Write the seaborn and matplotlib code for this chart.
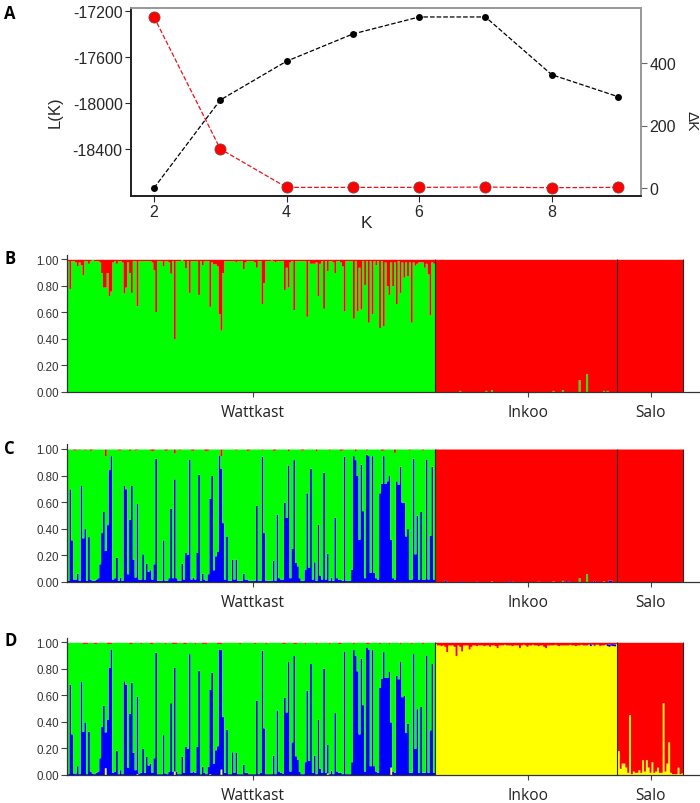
import matplotlib
matplotlib.use("Agg")
import matplotlib.pyplot as plt
import numpy as np
import pandas as pd
import seaborn as sns

# panel A
K_VALUES = [2, 3, 4, 5, 6, 7, 8, 9]
L_K = [-18739, -17974, -17637, -17400, -17252, -17252, -17754, -17945]
DELTA_K = [547, 125, 2, 2, 2, 3, 1, 2]
L_TICKS = [-17200, -17600, -18000, -18400]
DELTA_TICKS = [0, 200, 400]
K_TICKS = [2, 4, 6, 8]

# structure panels, populations in plot order
POPULATIONS = ["Wattkast", "Inkoo", "Salo"]
POP_SIZES = [197, 98, 35]
POP_TICKS = [99.2, 246.4, 312.5]
Q_TICKS = [0.0, 0.2, 0.4, 0.6, 0.8, 1.0]

B_WATT_RED = [
    .01, .22, .01, .01, .02, .05, .02, .04, .115, .01,
    .01, .03, .01, 0, .01, .01, .01, .02, .10, .21,
    .21, .10, .275, .24, .02, .01, .03, .01, .01, .02,
    .255, .21, .02, .10, .25, .01, .01, .35, .01, .01,
    .01, .01, .01, .01, .01, .02, .08, .395, .01, .01,
    .01, .05, .01, .01, .02, .105, .01, .60, .01, .01,
    .01, 0, .01, .065, .01, .25, .01, .01, .01, .01,
    .265, .01, .04, .01, .01, .01, .355, .02, .035, .035,
    .05, .41, .535, .10, .01, .01, .01, .01, .01, .01,
    .02, .01, .01, .01, .07, .02, .01, .01, .01, .01,
    .02, .06, .01, .01, .335, .175, .01, .01, .01, .005,
    .01, .02, .01, .01, .01, .01, .23, .06, .21, .02,
    .01, .38, .01, .01, .01, .01, .01, .01, .43, .01,
    .03, .03, .03, .02, .275, .03, .01, .37, .01, .085,
    .01, .01, .02, .10, .01, .01, .02, .05, .39, .01,
    .01, .01, .01, .445, .01, .39, .06, .375, .01, .19,
    .01, .475, .01, .41, .01, .04, .01, .515, .01, .50,
    .02, .20, .265, .02, .20, .02, .335, .01, .25, .02,
    .135, .02, .125, .02, .475, .02, .045, .03, .02, .02,
    .02, .06, .03, .11, .42, .02, .03,
]
B_INK_GREEN_IDX = [13, 27, 30, 63, 68, 77, 81, 90, 92]
B_INK_GREEN = [.01, .01, .015, .01, .015, .09, .135, .01, .01]

C_WATT_BLUE = [
    .01, .70, .315, .02, .02, .065, .01, .725, .33, .40,
    .01, .34, .02, .01, .01, .02, .03, .135, .37, .53,
    .235, .43, .845, .95, .02, .03, .185, .01, .035, .01,
    .725, .70, .06, .47, .725, .17, .035, .59, .02, .02,
    .21, .02, .14, .08, .09, .02, .135, .93, .01, .01,
    .01, .315, .01, .01, .03, .555, .03, .775, .03, .01,
    .01, .14, .02, .22, .205, .925, .02, .035, .02, .22,
    .81, .01, .065, .02, .01, .06, .63, .80, .09, .195,
    .23, .955, .855, .445, .02, .345, .01, .01, .17, .02,
    .17, .01, .01, .01, .065, .02, .02, .01, .01, .01,
    .01, .575, .01, .01, .945, .37, .01, .01, .01, .01,
    .16, .01, .51, .03, .02, .02, .60, .485, .88, .03,
    .25, .92, .145, .12, .03, .01, .01, .095, .67, .11,
    .855, .02, .15, .01, .435, .05, .02, .825, .02, .215,
    .01, .035, .01, .485, .03, .02, .02, .01, .945, .01,
    .01, .01, .095, .95, .92, .80, .32, .885, .535, .03,
    .96, .95, .07, .95, .07, .03, .02, .67, .74, .95,
    .74, .76, .80, .32, .03, .02, .76, .735, .87, .60,
    .60, .345, .40, .02, .02, .93, .21, .50, .02, .53,
    .02, .02, .925, .02, .35, .87, .02,
]
C_WATT_RED_IDX = [3, 4, 6, 9, 12, 13, 20, 27, 28, 33, 36, 37, 44, 45, 46, 52, 53,
                  57, 60, 66, 67, 73, 74, 75, 82, 90, 96, 97, 104, 110, 111, 118,
                  125, 126, 133, 140, 146, 147, 154, 160, 168, 169, 175, 183, 190]
C_WATT_RED = [.008, .008, .005, .008, .01, .005, .05, .008, .008, .01, .008, .005,
              .008, .012, .008, .01, .008, .03, .008, .008, .01, .008, .012, .008,
              .05, .008, .01, .008, .008, .01, .008, .012, .008, .008, .012, .008,
              .01, .008, .012, .008, .01, .008, .025, .008, .008]
C_INK_GREEN_IDX = [30, 63, 68, 77, 81, 90]
C_INK_GREEN = [.006, .006, .01, .03, .06, .006]
C_INK_BLUE_IDX = [5, 6, 14, 22, 40, 41, 55, 70, 71, 85, 93, 94]
C_INK_BLUE = [.01, .006, .008, .006, .008, .006, .006, .008, .006, .01, .012, .012]

D_WATT_BLUE = [
    .01, .685, .31, .015, .01, .07, .01, .705, .33, .40,
    .01, .33, .03, .015, .01, .02, .03, .13, .365, .525,
    .27, .42, .81, .95, .02, .03, .185, .01, .04, .01,
    .71, .685, .06, .465, .70, .17, .04, .585, .015, .02,
    .20, .02, .14, .075, .09, .02, .13, .925, .01, .01,
    .01, .305, .015, .01, .03, .545, .03, .78, .03, .01,
    .01, .14, .02, .215, .20, .915, .02, .03, .02, .215,
    .79, .01, .065, .02, .01, .065, .635, .775, .09, .19,
    .22, .95, .90, .44, .02, .345, .01, .01, .175, .02,
    .17, .01, .01, .01, .075, .02, .02, .01, .01, .01,
    .01, .565, .01, .02, .94, .355, .01, .01, .01, .01,
    .15, .01, .49, .03, .02, .015, .585, .475, .855, .03,
    .25, .90, .145, .12, .03, .01, .01, .10, .64, .11,
    .84, .02, .15, .01, .42, .05, .02, .805, .02, .215,
    .01, .035, .01, .47, .03, .02, .02, .01, .935, .01,
    .01, .01, .10, .945, .90, .785, .31, .88, .53, .03,
    .965, .95, .07, .945, .07, .03, .02, .66, .73, .93,
    .735, .735, .78, .34, .03, .02, .75, .725, .855, .59,
    .60, .32, .39, .02, .02, .915, .20, .50, .02, .52,
    .02, .02, .905, .02, .34, .84, .02,
]
D_WATT_YELLOW_IDX = [4, 20, 37, 57, 76, 82, 94, 139, 173]
D_WATT_YELLOW = [.005, .055, .01, .03, .01, .045, .005, .015, .06]
D_WATT_RED_IDX = [8, 9, 10, 14, 15, 21, 22, 23, 33, 34, 39, 44, 45, 52, 56, 57, 58,
                  62, 63, 68, 72, 73, 74, 80, 81, 82, 92, 100, 106, 115, 116, 121,
                  122, 127, 133, 140, 145, 146, 153, 160, 161, 167, 172, 178, 184, 190]
D_WATT_RED = [.008] * len(D_WATT_RED_IDX)
D_INK_RED = [
    .01, .02, .02, .025, .02, .03, .07, .02, .02, .02,
    .03, .10, .02, .03, .065, .02, .02, .02, .05, .03,
    .02, .02, .025, .02, .02, .02, .025, .02, .02, .03,
    .02, .02, .025, .04, .02, .02, .02, .015, .02, .02,
    .02, .025, .02, .02, .02, .04, .02, .015, .02, .03,
    .02, .02, .015, .02, .02, .025, .02, .02, .03, .04,
    .02, .02, .02, .02, .015, .02, .025, .02, .02, .02,
    .02, .02, .015, .02, .02, .025, .02, .02, .015, .02,
    .02, .02, .015, .01, .015, .02, .015, .015, .02, .02,
    .02, .015, .01, .015, .01, .01, .015, .01,
]
D_INK_BLUE_IDX = [83, 85, 88, 92, 93, 94, 95, 96]
D_INK_BLUE = [.015, .005, .005, .015, .015, .012, .015, .012]
D_SALO_YELLOW = [
    .185, .05, .09, .09, .06, .02, .455, .01, .03, .02,
    .02, .04, .02, .115, .03, .115, .06, .02, .10, .02,
    .03, .06, .02, .02, .545, .03, .09, .25, .02, .01,
    .01, .01, .06, .01, .015,
]

# first name is stacked on top
CLUSTERS = ["red", "green", "blue", "yellow"]
CLUSTER_COLORS = {"red": "#ff0000", "green": "#00ff00", "blue": "#0000ff", "yellow": "#ffff00"}

W, H = 700, 804
BAR_PX = (682.7 - 67) / sum(POP_SIZES)


def px_axes(fig, left, top, right, bottom):
    return fig.add_axes([left / W, 1 - bottom / H, (right - left) / W, (bottom - top) / H])


def sparse(n, idx, values):
    out = np.zeros(n)
    out[idx] = values
    return out


def build_panel(groups):
    """groups: one (rest_cluster, {cluster: values}) per population."""
    rows = []
    start = 0
    for n, (rest, parts) in zip(POP_SIZES, groups):
        total = np.sum([np.asarray(v) for v in parts.values()], axis=0) if parts else np.zeros(n)
        for cluster in CLUSTERS:
            if cluster == rest:
                q = 1 - total
            else:
                q = np.asarray(parts.get(cluster, np.zeros(n)))
            rows.append(pd.DataFrame({"ind": np.arange(start, start + n), "cluster": cluster, "q": q}))
        start += n
    return pd.concat(rows, ignore_index=True)


def plot_structure(fig, df, top, bottom, letter, letter_y):
    # axis runs a little above 1.00
    axis_top = top - 0.035 * (bottom - top)
    ax = px_axes(fig, 67, axis_top, 700, bottom)
    sns.histplot(
        data=df,
        x="ind",
        weights="q",
        hue="cluster",
        hue_order=CLUSTERS,
        palette=CLUSTER_COLORS,
        multiple="stack",
        discrete=True,
        element="step",
        linewidth=0,
        alpha=1,
        legend=False,
        ax=ax,
    )
    edges = np.cumsum(POP_SIZES) - 0.5
    ax.vlines(edges, 0, 1, color="#2a2a2a", linewidth=0.8)
    ax.set_xlim(-0.5, -0.5 + (700 - 67) / BAR_PX)
    ax.set_ylim(0, 1.035)
    ax.set_xlabel("")
    ax.set_ylabel("")
    ax.set_yticks(Q_TICKS)
    ax.set_yticklabels([f"{v:.2f}" for v in Q_TICKS], fontsize=8.3, color="#333333",
                       family="Liberation Sans")
    ax.set_xticks(POP_TICKS)
    ax.set_xticklabels(POPULATIONS, fontsize=11.2, color="#222222", family="Open Sans")
    ax.tick_params(axis="y", length=4.5, width=0.8, color="#444444", pad=1.5)
    ax.tick_params(axis="x", length=3.5, width=0.8, color="#444444", pad=5)
    for side in ["top", "right"]:
        ax.spines[side].set_visible(False)
    for side in ["left", "bottom"]:
        ax.spines[side].set_color("#333333")
        ax.spines[side].set_linewidth(0.9)
    fig.text(4 / W, 1 - letter_y / H, letter, fontsize=12, fontweight="bold",
             family="Open Sans", va="center", color="black")


def plot_evanno(fig):
    ax = px_axes(fig, 131, 9, 641, 197)
    sns.lineplot(x=K_VALUES, y=L_K, ax=ax, color="black", linestyle="--", linewidth=0.9,
                 marker="o", markersize=5, markeredgewidth=0)
    ax.set_xlim(1.653, 9.347)
    ax.set_ylim(-18809, -17174)
    ax.set_xticks(K_TICKS)
    ax.set_yticks(L_TICKS)
    ax.set_yticklabels([str(v) for v in L_TICKS])
    ax.set_xlabel("K", fontsize=12.5)
    ax.set_ylabel("L(K)", fontsize=12)
    ax.xaxis.set_label_coords((366 - 131) / 510, -(224 - 197) / 188, transform=ax.transAxes)
    ax.xaxis.label.set_va("center")
    ax.yaxis.set_label_coords(-(131 - 55) / 510, (197 - 112) / 188, transform=ax.transAxes)
    ax.yaxis.label.set_va("center")
    ax.tick_params(axis="both", labelsize=11.5, length=4, width=0.8, pad=2)

    ax2 = ax.twinx()
    sns.lineplot(x=K_VALUES, y=DELTA_K, ax=ax2, color="#e8141c", linestyle="--", linewidth=0.9,
                 marker="o", markersize=8, markerfacecolor="#ff0000",
                 markeredgecolor="#8a4040", markeredgewidth=0.6)
    ax2.set_ylim(-25.6, 576)
    ax2.set_yticks(DELTA_TICKS)
    ax2.set_ylabel("\u0394K", fontsize=11, rotation=270)
    ax2.yaxis.set_label_coords((691 - 131) / 510, (197 - 121) / 188, transform=ax2.transAxes)
    ax2.yaxis.label.set_va("center")
    ax2.tick_params(axis="y", labelsize=11.5, length=4, width=0.8, pad=2, color="#666666")
    for a in (ax, ax2):
        a.spines["top"].set_color("#999999")
        a.spines["right"].set_color("#999999")
        a.spines["left"].set_color("#222222")
        a.spines["bottom"].set_color("#222222")
    fig.text(4 / W, 1 - 14 / H, "A", fontsize=12, fontweight="bold", family="Open Sans",
             va="center", color="black")


def main():
    sns.set_theme(style="ticks")
    plt.rcParams["font.family"] = ["Liberation Sans", "DejaVu Sans"]

    n_w, n_i, n_s = POP_SIZES
    panel_b = build_panel([
        ("green", {"red": B_WATT_RED}),
        ("red", {"green": sparse(n_i, B_INK_GREEN_IDX, B_INK_GREEN)}),
        ("red", {}),
    ])
    panel_c = build_panel([
        ("green", {"blue": C_WATT_BLUE, "red": sparse(n_w, C_WATT_RED_IDX, C_WATT_RED)}),
        ("red", {"green": sparse(n_i, C_INK_GREEN_IDX, C_INK_GREEN),
                 "blue": sparse(n_i, C_INK_BLUE_IDX, C_INK_BLUE)}),
        ("red", {}),
    ])
    panel_d = build_panel([
        ("green", {"blue": D_WATT_BLUE, "red": sparse(n_w, D_WATT_RED_IDX, D_WATT_RED),
                   "yellow": sparse(n_w, D_WATT_YELLOW_IDX, D_WATT_YELLOW)}),
        ("yellow", {"red": D_INK_RED, "blue": sparse(n_i, D_INK_BLUE_IDX, D_INK_BLUE)}),
        ("red", {"yellow": D_SALO_YELLOW}),
    ])

    fig = plt.figure(figsize=(W / 100, H / 100), dpi=100, facecolor="white")
    plot_evanno(fig)
    plot_structure(fig, panel_b, 260.3, 392.7, "B", 259)
    plot_structure(fig, panel_c, 450, 582.7, "C", 449)
    plot_structure(fig, panel_d, 643.3, 776, "D", 641)
    fig.savefig("out.png", dpi=100, facecolor="white")
    plt.close(fig)


if __name__ == "__main__":
    main()
